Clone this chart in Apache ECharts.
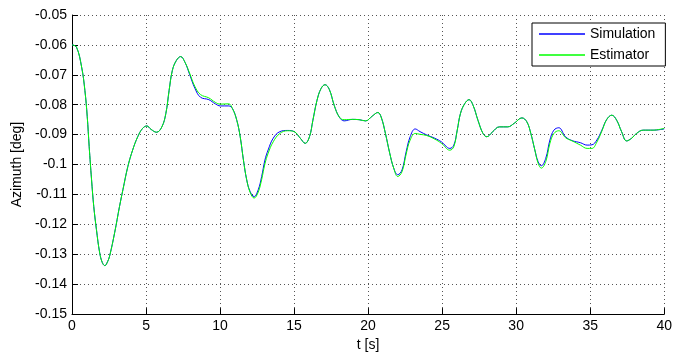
<!DOCTYPE html>
<html>
<head>
<meta charset="utf-8">
<script src="https://cdn.jsdelivr.net/npm/echarts@6/dist/echarts.min.js"></script>
<style>
html,body{margin:0;padding:0;background:#fff;}
#chart{width:675px;height:357px;}
</style>
</head>
<body>
<div id="chart"></div>
<script>
var seriesNames = ['Simulation', 'Estimator'];
var xTicks = [0, 5, 10, 15, 20, 25, 30, 35, 40];
var yTicks = [-0.15, -0.14, -0.13, -0.12, -0.11, -0.1, -0.09, -0.08, -0.07, -0.06, -0.05];
var xTitle = 't [s]';
var yTitle = 'Azimuth [deg]';

var t = [0, 0.3, 0.65, 0.87, 1.03, 1.16, 1.32, 1.47, 1.65, 1.87, 2.05, 2.22, 2.4, 2.54, 2.88, 3.21, 3.44, 3.77, 4.1, 4.44,
  4.77, 5.06, 5.33, 5.71, 6.07, 6.34, 6.56, 6.78, 7.05, 7.34, 7.63, 7.94, 8.3, 8.68, 9.24, 9.68, 10.02, 10.58, 10.84, 11.13,
  11.36, 11.58, 11.8, 12.03, 12.3, 12.58, 12.81, 13.03, 13.25, 13.59, 14.04, 14.57, 15.01, 15.42, 15.75, 16.04, 16.27, 16.55, 16.82, 17.09,
  17.38, 17.71, 18.05, 18.38, 18.94, 19.39, 19.83, 20.28, 20.66, 20.88, 21.17, 21.46, 21.73, 22.0, 22.29, 22.57, 22.84, 23.18, 23.51, 23.96,
  24.5, 24.95, 25.52, 25.79, 26.02, 26.24, 26.53, 26.82, 27.09, 27.42, 27.76, 28.02, 28.38, 28.87, 29.43, 29.87, 30.39, 30.72, 30.99, 31.26,
  31.48, 31.7, 32.0, 32.28, 32.55, 32.88, 33.33, 33.78, 34.34, 34.79, 35.12, 35.45, 35.79, 36.12, 36.46, 36.79, 37.12, 37.46, 37.8, 38.13,
  38.58, 39.25, 40];

var simulation = [-0.0600, -0.0607, -0.0674, -0.0752, -0.0840, -0.0940, -0.1050, -0.1140, -0.1217, -0.1295, -0.1328, -0.1338, -0.1325, -0.1306, -0.1228, -0.1140, -0.1084, -0.1007, -0.0951, -0.0907,
  -0.0879, -0.0871, -0.0882, -0.0892, -0.0874, -0.0829, -0.0752, -0.0685, -0.0652, -0.0639, -0.0658, -0.0698, -0.0745, -0.0775, -0.0783, -0.0797, -0.0804, -0.0804, -0.0813, -0.0852,
  -0.0907, -0.0985, -0.1051, -0.1090, -0.1107, -0.1084, -0.1040, -0.0985, -0.0951, -0.0912, -0.0890, -0.0886, -0.0890, -0.0912, -0.0929, -0.0907, -0.0852, -0.0785, -0.0746, -0.0733,
  -0.0749, -0.0802, -0.0841, -0.0854, -0.0849, -0.0850, -0.0854, -0.0838, -0.0826, -0.0841, -0.0896, -0.0962, -0.1012, -0.1034, -0.1018, -0.0957, -0.0907, -0.0881, -0.0890, -0.0901,
  -0.0912, -0.0924, -0.0946, -0.0935, -0.0885, -0.0829, -0.0796, -0.0783, -0.0802, -0.0852, -0.0896, -0.0907, -0.0892, -0.0874, -0.0874, -0.0862, -0.0844, -0.0857, -0.0896, -0.0951,
  -0.0990, -0.1004, -0.0979, -0.0918, -0.0885, -0.0877, -0.0907, -0.0920, -0.0927, -0.0935, -0.0934, -0.0918, -0.0885, -0.0849, -0.0835, -0.0852, -0.0890, -0.0921, -0.0912, -0.0896,
  -0.0885, -0.0885, -0.0881];

var estimator = [-0.0600, -0.0607, -0.0674, -0.0752, -0.0840, -0.0940, -0.1050, -0.1140, -0.1217, -0.1295, -0.1328, -0.1338, -0.1325, -0.1306, -0.1228, -0.1140, -0.1084, -0.1007, -0.0951, -0.0907,
  -0.0879, -0.0871, -0.0882, -0.0892, -0.0874, -0.0829, -0.0752, -0.0685, -0.0652, -0.0639, -0.0658, -0.0694, -0.0739, -0.0766, -0.0777, -0.0792, -0.0798, -0.0797, -0.0813, -0.0852,
  -0.0907, -0.0985, -0.1051, -0.1093, -0.1112, -0.1092, -0.1050, -0.0998, -0.0962, -0.0924, -0.0896, -0.0887, -0.0890, -0.0912, -0.0929, -0.0907, -0.0852, -0.0785, -0.0746, -0.0733,
  -0.0749, -0.0802, -0.0841, -0.0850, -0.0849, -0.0850, -0.0854, -0.0838, -0.0826, -0.0841, -0.0896, -0.0962, -0.1012, -0.1040, -0.1024, -0.0965, -0.0918, -0.0896, -0.0899, -0.0903,
  -0.0915, -0.0929, -0.0952, -0.0940, -0.0885, -0.0829, -0.0796, -0.0783, -0.0802, -0.0852, -0.0896, -0.0907, -0.0892, -0.0874, -0.0874, -0.0862, -0.0844, -0.0857, -0.0896, -0.0951,
  -0.0995, -0.1012, -0.0990, -0.0929, -0.0896, -0.0887, -0.0910, -0.0921, -0.0935, -0.0946, -0.0946, -0.0925, -0.0888, -0.0849, -0.0835, -0.0852, -0.0890, -0.0921, -0.0912, -0.0896,
  -0.0885, -0.0885, -0.0879];

function pairs(xs, ys) { return xs.map(function (x, i) { return [x, ys[i]]; }); }

var FONT = '"Liberation Sans", Arial, sans-serif';
var chart = echarts.init(document.getElementById('chart'), null, { renderer: 'canvas' });
chart.setOption({
  animation: false,
  backgroundColor: '#fff',
  grid: { left: 72, top: 15, right: 5, bottom: 42, containLabel: false },
  legend: {
    data: [
      { name: seriesNames[0], icon: 'rect' },
      { name: seriesNames[1], icon: 'rect' }
    ],
    orient: 'vertical',
    left: 532, top: 23,
    itemWidth: 46, itemHeight: 1.5,
    itemGap: 7,
    padding: [4, 10, 4, 7],
    borderColor: '#000', borderWidth: 1,
    backgroundColor: '#fff',
    textStyle: { fontFamily: FONT, fontSize: 14, color: '#000', padding: [0, 0, 0, 0], lineHeight: 14 }
  },
  xAxis: {
    type: 'value', min: xTicks[0], max: xTicks[xTicks.length - 1], interval: 5,
    name: xTitle, nameLocation: 'middle', nameGap: 23,
    nameTextStyle: { fontFamily: FONT, fontSize: 14, color: '#000' },
    axisLine: { show: true, onZero: false, lineStyle: { color: '#000', width: 1 } },
    axisTick: { show: true, inside: true, length: 6, lineStyle: { color: '#000' } },
    axisLabel: { fontFamily: FONT, fontSize: 14, color: '#000', margin: 5 },
    splitLine: { show: true, lineStyle: { color: '#555', width: 1, type: [1, 3] } }
  },
  yAxis: {
    type: 'value', min: yTicks[0], max: yTicks[yTicks.length - 1], interval: 0.01,
    name: yTitle, nameLocation: 'middle', nameGap: 47, nameRotate: 90,
    nameTextStyle: { fontFamily: FONT, fontSize: 14, color: '#000' },
    axisLine: { show: true, onZero: false, lineStyle: { color: '#000', width: 1 } },
    axisTick: { show: true, inside: true, length: 6, lineStyle: { color: '#000' } },
    axisLabel: { fontFamily: FONT, fontSize: 14, color: '#000', margin: 5,
      formatter: function (v) { return String(parseFloat(v.toFixed(2))); } },
    splitLine: { show: true, lineStyle: { color: '#555', width: 1, type: [1, 3] } }
  },
  series: [
    { name: seriesNames[0], type: 'line', data: pairs(t, simulation), showSymbol: false, smooth: 0.4,
      lineStyle: { color: '#0000ff', width: 1 }, itemStyle: { color: '#0000ff' } },
    { name: seriesNames[1], type: 'line', data: pairs(t, estimator), showSymbol: false, smooth: 0.4,
      lineStyle: { color: '#00ff00', width: 1 }, itemStyle: { color: '#00ff00' } }
  ]
});
</script>
</body>
</html>
